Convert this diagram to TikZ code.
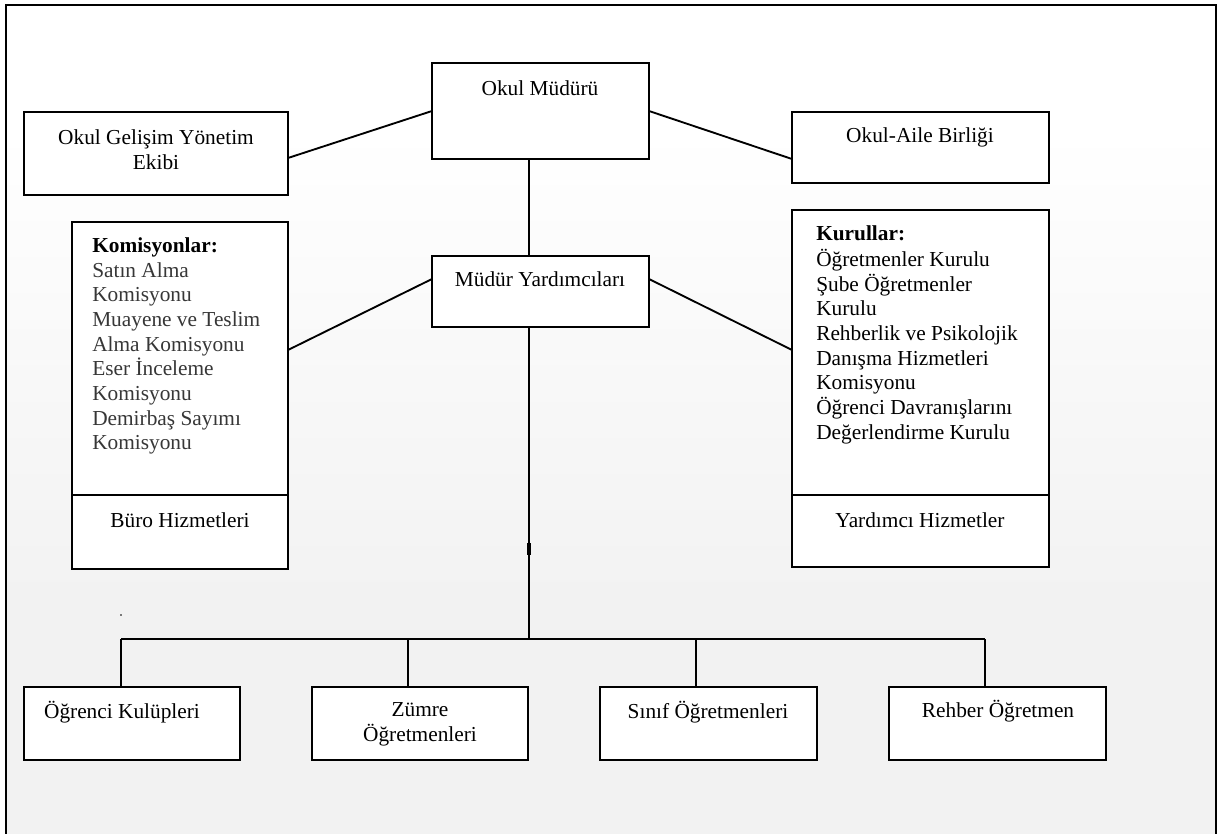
\documentclass[tikz,border=0pt]{standalone}
\usepackage{fontspec}
\setmainfont{Liberation Serif}
\usetikzlibrary{calc}
\definecolor{bgend}{RGB}{242,242,242}
\definecolor{kgray}{RGB}{55,55,55}
\begin{document}
\begin{tikzpicture}[x=0.75pt,y=-0.75pt,
  box/.style={draw=black, line width=1.5pt, fill=white, inner sep=0pt, outer sep=0pt, anchor=north west},
  conn/.style={line width=1.4pt},
  lbl/.style={font=\fontsize{16}{18.5}\selectfont, inner sep=0pt, align=center},
  lst/.style={font=\fontsize{16}{18.5}\selectfont, inner sep=0pt, align=left, anchor=north west}]
\useasboundingbox (0,0) rectangle (1218,834);
% background
\fill[white] (0,0) rectangle (1218,834);
\shade[top color=white, bottom color=bgend] (6,130) rectangle (1216,600);
\fill[bgend] (6,599) rectangle (1216,834);
\draw[line width=2.2pt] (6,834) -- (6,5) -- (1216,5) -- (1216,834);
% boxes
\node[box, minimum width=217*0.75pt, minimum height=96*0.75pt] (om) at (432,63) {};
\node[box, minimum width=217*0.75pt, minimum height=71*0.75pt] (my) at (432,256) {};
\node[box, minimum width=264*0.75pt, minimum height=83*0.75pt] (ogy) at (24,112) {};
\node[box, minimum width=257*0.75pt, minimum height=71*0.75pt] (oab) at (792,112) {};
\node[box, minimum width=216*0.75pt, minimum height=347*0.75pt] (kom) at (72,222) {};
\node[box, minimum width=257*0.75pt, minimum height=357*0.75pt] (kur) at (792,210) {};
\node[box, minimum width=216*0.75pt, minimum height=73*0.75pt] (b1) at (24,687) {};
\node[box, minimum width=216*0.75pt, minimum height=73*0.75pt] (b2) at (312,687) {};
\node[box, minimum width=217*0.75pt, minimum height=73*0.75pt] (b3) at (600,687) {};
\node[box, minimum width=217*0.75pt, minimum height=73*0.75pt] (b4) at (889,687) {};
% dividers
\coordinate (kd) at (0,495);
\draw[line width=1.5pt] (kom.west |- kd) -- (kom.east |- kd);
\draw[line width=1.5pt] (kur.west |- kd) -- (kur.east |- kd);
% connectors
\draw[conn] ($(ogy.east)+(0,4.5)$) -- (om.west);
\draw[conn] (om.east) -- ($(oab.west)+(0,11.5)$);
\draw[conn] ($(my.west)+(0,-12.5)$) -- ($(kom.east)+(0,-45.5)$);
\draw[conn] ($(my.east)+(0,-12.5)$) -- ($(kur.west)+(0,-38.5)$);
\draw[conn] ($(om.south)+(-11.5,0)$) -- ($(my.north)+(-11.5,0)$);
\coordinate (busL) at (121,639);
\coordinate (busR) at (985,639);
\coordinate (myd) at ($(my.south)+(-11.5,0)$);
\draw[conn] (myd) -- (myd |- busL);
\draw[line width=2.4pt] ($(myd)+(0,216)$) -- ($(myd)+(0,228)$);
\draw[conn] (busL) -- (busR);
\coordinate (d1) at ($(b1.north)+(-11,0)$);
\coordinate (d2) at ($(b2.north)+(-12,0)$);
\coordinate (d3) at ($(b3.north)+(-12.5,0)$);
\coordinate (d4) at ($(b4.north)+(-12.5,0)$);
\draw[conn] (d1 |- busL) -- (d1);
\draw[conn] (d2 |- busL) -- (d2);
\draw[conn] (d3 |- busL) -- (d3);
\draw[conn] (d4 |- busL) -- (d4);
\fill[black] (121,615) circle (0.8);
% texts
\node[lbl] (t-om) at (540,88) {Okul Müdürü};
\node[lbl] (t-my) at (540,279) {Müdür Yardımcıları};
\node[lbl] (t-ogy) at (156,149.5) {Okul Gelişim Yönetim\\Ekibi};
\node[lbl] (t-oab) at (920,137) {Okul-Aile Birliği};
\node[lbl] (t-buro) at (180,520) {Büro Hizmetleri};
\node[lbl] (t-yard) at (920,520) {Yardımcı Hizmetler};
\node[lbl] (t-b1) at (122,712) {Öğrenci Kulüpleri};
\node[lbl] (t-b2) at (420,724.5) {Zümre\\Öğretmenleri};
\node[lbl] (t-b3) at (708,712) {Sınıf Öğretmenleri};
\node[lbl] (t-b4) at (998,711) {Rehber Öğretmen};
\node[lst, text=kgray] (t-kom) at (92,235) {\strut\textcolor{black}{\textbf{Komisyonlar:}}\\Satın Alma\\Komisyonu\\Muayene ve Teslim\\Alma Komisyonu\\Eser İnceleme\\Komisyonu\\Demirbaş Sayımı\\Komisyonu};
\node[lst] (t-kur) at (816,223) {\strut\textbf{Kurullar:}\\Öğretmenler Kurulu\\Şube Öğretmenler\\Kurulu\\Rehberlik ve Psikolojik\\Danışma Hizmetleri\\Komisyonu\\Öğrenci Davranışlarını\\Değerlendirme Kurulu};
\end{tikzpicture}
\end{document}
